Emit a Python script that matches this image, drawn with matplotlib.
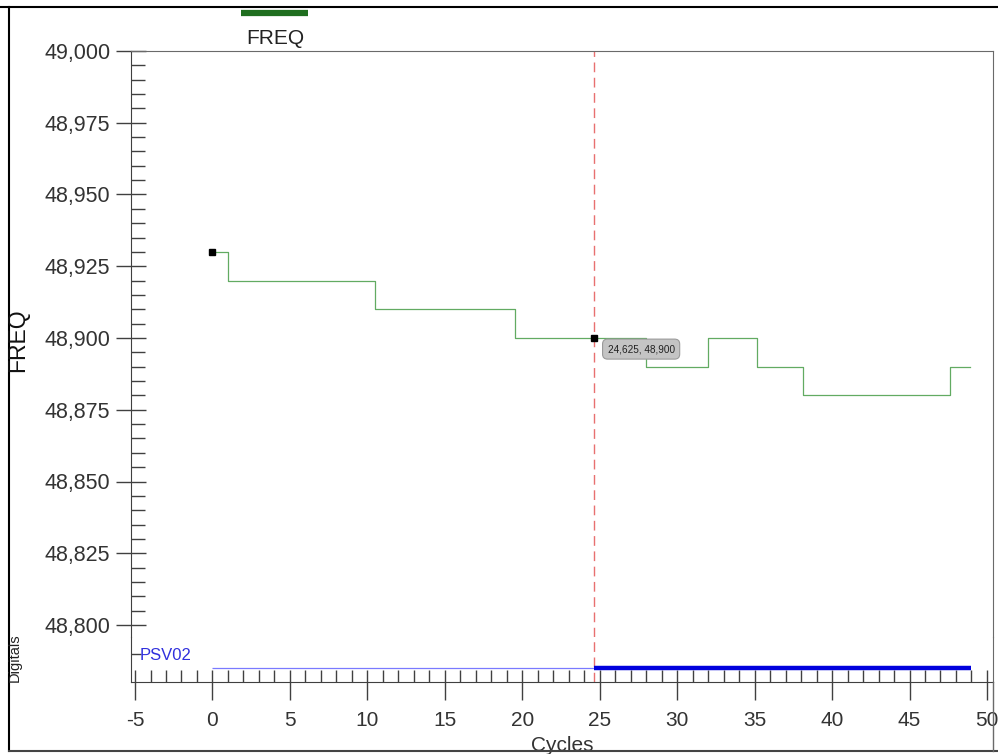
import matplotlib
matplotlib.use("Agg")
import matplotlib.pyplot as plt
from matplotlib.ticker import MultipleLocator, FuncFormatter
from matplotlib.lines import Line2D

plt.rcParams['font.family'] = ['Liberation Sans', 'DejaVu Sans']
plt.rcParams['axes.unicode_minus'] = False

# ---- data ----
freq_cycles = [0.0, 1.0, 10.5, 19.5, 28.0, 32.0, 35.125, 38.125, 47.625, 48.875]
freq_values = [48.930, 48.920, 48.910, 48.900, 48.890, 48.900, 48.890, 48.880, 48.890, 48.890]
marker_cycles = [0.0, 24.625]
marker_values = [48.930, 48.900]
cursor_cycle = 24.625
cursor_label = "24,625, 48,900"
digital_name = "PSV02"
digital_edges = [0.0, 24.625, 49.0]
digital_states = [0, 1]
x_ticks = list(range(-5, 51, 5))
y_ticks = [48.800, 48.825, 48.850, 48.875, 48.900, 48.925, 48.950, 48.975, 49.000]

W, H = 998, 754
fig = plt.figure(figsize=(W / 100, H / 100), dpi=100)

def fx(px):
    return px / W

def fy(py):
    return 1 - py / H

L, R = 131, 993
TOP, MID, BOT = 51, 637, 682
ax = fig.add_axes([fx(L), fy(MID), fx(R - L), fy(TOP) - fy(MID)])
ax2 = fig.add_axes([fx(L), fy(BOT), fx(R - L), fy(MID) - fy(BOT)], sharex=ax)

spine_c = '#6a6a6a'
tick_c = '#404040'
txt_c = '#333333'

per_px = 0.2 / (625 - TOP)
ax.set_ylim(48.8 - (MID - 625) * per_px, 49.0)
ax.set_xlim(-5.26, 50.39)

ax.step(freq_cycles, freq_values, where='post', color='#62ab62', lw=0.9)
ax.plot(marker_cycles, marker_values, 's', color='black', ms=5, zorder=5)
ax.axvline(cursor_cycle, color='#e87070', lw=1.0, dashes=(7, 4))
ax2.axvline(cursor_cycle, color='#e87070', lw=1.0, dashes=(7, 4))

ax.annotate(cursor_label, xy=(cursor_cycle, marker_values[1]), xytext=(34, -8),
            textcoords='offset points', ha='center', va='center', fontsize=7.2,
            color='#222222',
            bbox=dict(boxstyle='round,pad=0.5', fc='#c4c4c4', ec='#9a9a9a', lw=0.8),
            zorder=6)

def fmt(v, p):
    thousands = int(round(v * 1000))
    return f"{thousands // 1000},{thousands % 1000:03d}"

ax.set_yticks(y_ticks)
ax.yaxis.set_major_formatter(FuncFormatter(fmt))
ax.yaxis.set_minor_locator(MultipleLocator(0.005))
ax.tick_params(axis='y', which='major', direction='inout', length=22, width=1, color=tick_c,
               labelsize=15.5, labelcolor=txt_c, pad=4)
ax.tick_params(axis='y', which='minor', direction='in', length=10, width=1, color=tick_c)
ax.tick_params(axis='x', which='both', bottom=False, labelbottom=False)
for s in ['top', 'left', 'right']:
    ax.spines[s].set_color(spine_c)
ax.spines['left'].set_color(tick_c)
ax.spines['bottom'].set_visible(False)
ax.patch.set_alpha(0)

# digital panel
base = 0.31
for i, st in enumerate(digital_states):
    ax2.plot(digital_edges[i:i + 2], [base, base], color='#0000dd' if st else '#7a7aff',
             lw=3.2 if st else 0.9, solid_capstyle='butt', zorder=4)
ax2.set_ylim(0, 1)
ax2.set_yticks([0.62])
ax2.tick_params(axis='y', direction='in', length=7, width=1, color=tick_c, labelleft=False)
ax2.text(-4.7, 0.6, digital_name, color='#3030dd', fontsize=12, va='center', ha='left')
ax2.set_xticks(x_ticks)
ax2.xaxis.set_minor_locator(MultipleLocator(1))
ax2.xaxis.remove_overlapping_locs = False
ax2.tick_params(axis='x', which='major', direction='out', length=13, width=1, color=tick_c,
                labelsize=15, labelcolor=txt_c, pad=8)
ax2.tick_params(axis='x', which='minor', direction='in', length=9, width=1, color=tick_c)
ax2.spines['top'].set_visible(False)
ax2.spines['left'].set_color(tick_c)
ax2.spines['bottom'].set_color(tick_c)
ax2.spines['right'].set_color(spine_c)
ax2.set_xlabel("Cycles", fontsize=15, color=txt_c, labelpad=4)
ax2.patch.set_alpha(0)

# labels
fig.text(fx(18), fy(340), "FREQ", rotation=90, ha='center', va='center', fontsize=16.5, color='#111111')
fig.text(fx(15), fy(658), "Digitals", rotation=90, ha='center', va='center', fontsize=10.5, color='#222222')

# legend on top
fig.add_artist(Line2D([fx(241), fx(308)], [fy(13), fy(13)], color='#1f6e1f', lw=4.5, solid_capstyle='butt'))
fig.text(fx(275), fy(39), "FREQ", ha='center', va='center', fontsize=15, color='#222222')

# outer frame of the screenshot
fig.add_artist(Line2D([0, 1], [fy(7), fy(7)], color='black', lw=1.5))
fig.add_artist(Line2D([fx(9), fx(9)], [fy(7), fy(751)], color='black', lw=1.5))
fig.add_artist(Line2D([fx(9), 1], [fy(751), fy(751)], color='#444444', lw=1.5))
fig.add_artist(Line2D([fx(R), fx(R)], [fy(BOT), fy(751)], color=spine_c, lw=1))

fig.savefig("out.png", dpi=100)
